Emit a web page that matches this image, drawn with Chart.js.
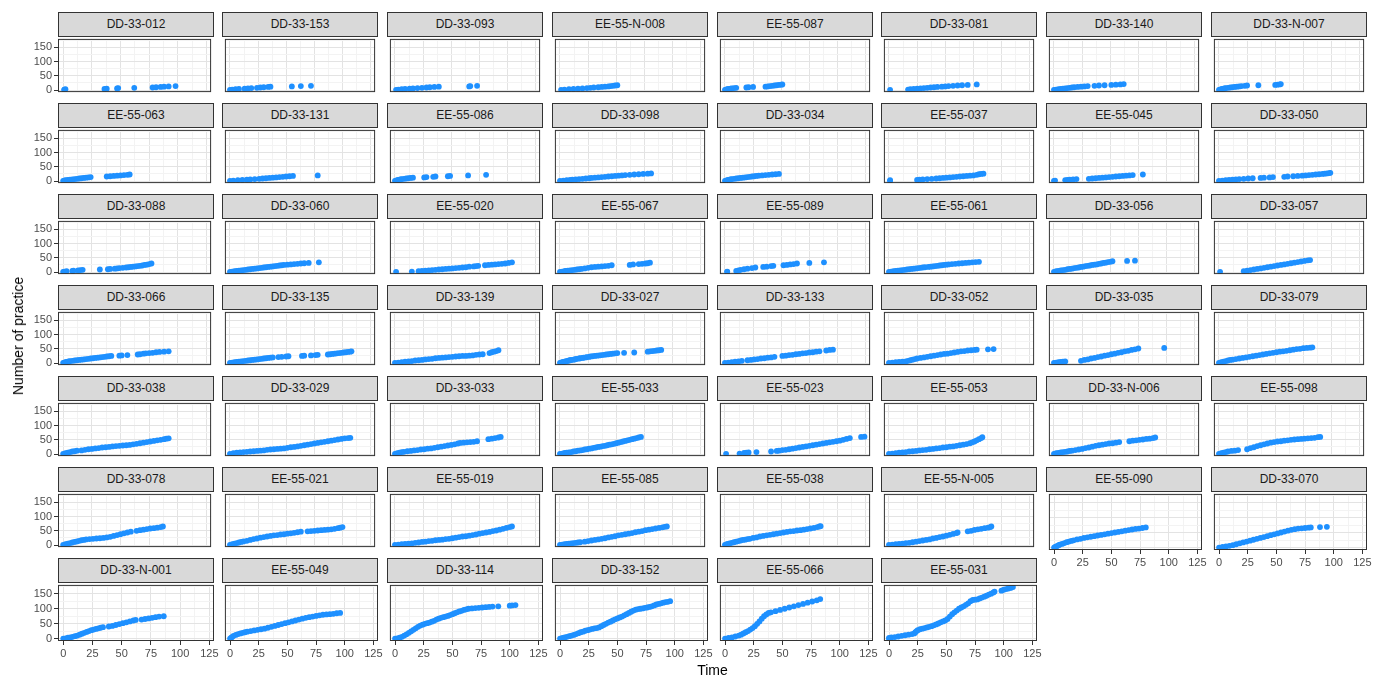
<!DOCTYPE html>
<html>
<head>
<meta charset="utf-8">
<script src="https://cdn.jsdelivr.net/npm/chart.js@4/dist/chart.umd.min.js"></script>
<style>
  body { margin: 0; background: #fff; }
  #wrap { position: relative; width: 1381px; height: 677px; overflow: hidden; font-family: "Liberation Sans", Arial, sans-serif; }
  .strip { position: absolute; box-sizing: border-box; background: #d9d9d9; border: 1px solid #333; color: #1a1a1a; font-size: 12px; text-align: center; line-height: 23px; white-space: nowrap; }
  canvas { position: absolute; }
  .title { position: absolute; color: #000; font-size: 14px; white-space: nowrap; }
</style>
</head>
<body>
<div id="wrap"></div>
<script>
// Axis breaks
const xTickValues = [0, 25, 50, 75, 100, 125];
const yTickValues = [0, 50, 100, 150];

// Cumulative practice count over time, one array of [time, count] per unit
const DD_33_012 = [[1,1],[1,2],[2,3],[36,4],[38,5],[47,6],[48,7],[62,8],[78,9],[81,10],[85,11],[88,12],[92,13],[98,14]];
const DD_33_153 = [[0,1],[2,2],[5,3],[8,4],[13,5],[16,6],[19,7],[24,8],[27,9],[30,10],[34,11],[36,12],[55,13],[63,14],[72,15]];
const DD_33_093 = [[1,1],[3,2],[6,3],[9,4],[13,5],[16,6],[20,7],[24,8],[28,9],[31,10],[35,11],[39,12],[66,13],[67,14],[73,15]];
const EE_55_N_008 = [[1,1],[4,2],[8,3],[12,4],[16,5],[20,6],[24,7],[27,8],[30,9],[34,10],[37,11],[40,12],[43,13],[45,14],[47,15],[49,16],[51,17]];
const EE_55_087 = [[0,1],[1,2],[2,3],[3,4],[5,5],[6,6],[8,7],[10,8],[19,9],[21,10],[25,11],[36,12],[38,13],[40,14],[42,15],[44,16],[46,17],[48,18],[50,19],[51,20]];
const DD_33_081 = [[1,1],[17,2],[19,3],[22,4],[25,5],[28,6],[31,7],[34,8],[37,9],[40,10],[43,11],[47,12],[50,13],[53,14],[57,15],[61,16],[65,17],[70,18],[78,20]];
const DD_33_140 = [[0,1],[2,2],[4,3],[6,4],[8,5],[10,6],[12,7],[14,8],[16,9],[18,10],[21,11],[24,12],[27,13],[30,14],[36,15],[40,16],[45,17],[51,18],[55,19],[59,20],[62,21]];
const DD_33_N_007 = [[0,1],[1,2],[2,3],[3,4],[4,5],[5,6],[6,7],[8,8],[10,9],[12,10],[14,11],[16,12],[18,13],[20,14],[23,15],[25,16],[35,17],[50,18],[52,19],[54,20],[55,21]];

const EE_55_063 = [[0,1],[1,2],[2,3],[4,4],[6,5],[8,6],[10,7],[12,8],[14,9],[16,10],[18,11],[20,12],[22,13],[24,14],[38,16],[41,17],[44,18],[47,19],[50,20],[53,21],[56,22],[58,23]];
const DD_33_131 = [[0,1],[3,2],[7,3],[11,4],[15,5],[18,6],[22,7],[26,8],[29,9],[32,10],[35,11],[38,12],[41,13],[44,14],[47,15],[50,16],[53,17],[56,18],[78,20]];
const EE_55_086 = [[0,1],[1,2],[2,3],[3,4],[4,5],[5,6],[6,7],[8,8],[10,9],[12,10],[14,11],[16,12],[26,13],[28,14],[34,15],[36,16],[47,17],[49,18],[65,20],[81,22]];
const DD_33_098 = [[0,1],[3,2],[6,3],[9,4],[11,5],[14,6],[17,7],[20,8],[23,9],[26,10],[28,11],[31,12],[34,13],[37,14],[40,15],[43,16],[46,17],[49,18],[52,19],[55,20],[58,21],[62,22],[66,23],[70,24],[74,25],[78,26],[81,27]];
const DD_33_034 = [[0,1],[1,2],[2,3],[3,4],[4,5],[5,6],[6,7],[8,8],[10,9],[12,10],[14,11],[16,12],[18,13],[20,14],[22,15],[24,16],[26,17],[28,18],[30,19],[33,20],[36,21],[39,22],[42,23],[45,24],[48,25]];
const EE_55_037 = [[1,1],[1,3],[25,4],[27,5],[30,6],[34,7],[38,8],[42,9],[45,10],[48,11],[51,12],[54,13],[57,14],[60,15],[63,16],[66,17],[69,18],[72,19],[75,20],[78,22],[80,24],[82,25],[84,26]];
const EE_55_045 = [[0,1],[1,2],[10,3],[12,4],[14,5],[17,6],[20,7],[31,8],[34,9],[37,10],[40,11],[43,12],[46,13],[49,14],[52,15],[55,16],[58,17],[61,18],[64,19],[67,20],[70,21],[79,23]];
const DD_33_050 = [[0,1],[3,2],[6,3],[9,4],[12,5],[15,6],[18,7],[22,8],[26,9],[30,10],[37,11],[40,12],[45,13],[48,14],[58,15],[61,16],[66,17],[70,18],[74,19],[77,20],[80,21],[83,22],[86,23],[89,24],[92,25],[94,26],[96,27],[98,28],[99,29]];

const DD_33_088 = [[0,1],[1,2],[3,3],[8,4],[9,5],[13,6],[15,7],[17,8],[32,9],[39,10],[41,11],[45,12],[47,13],[49,14],[52,15],[55,16],[57,17],[59,18],[61,19],[63,20],[65,21],[67,22],[69,23],[71,25],[73,26],[75,28],[77,30]];
const DD_33_060 = [[0,1],[2,2],[4,3],[6,4],[8,5],[10,6],[12,7],[14,8],[16,9],[18,10],[20,11],[22,12],[24,13],[26,14],[28,15],[30,16],[32,17],[34,18],[36,19],[38,20],[40,21],[42,22],[44,23],[46,24],[48,25],[51,26],[54,27],[57,28],[60,29],[63,30],[66,31],[70,32],[79,34]];
const EE_55_020 = [[1,1],[15,2],[21,3],[24,4],[27,5],[30,6],[33,7],[36,8],[39,9],[42,10],[45,11],[48,12],[51,13],[54,14],[57,15],[60,16],[63,17],[66,19],[70,20],[72,21],[74,22],[80,24],[83,25],[86,26],[89,27],[92,28],[95,29],[98,30],[101,32],[104,34]];
const EE_55_067 = [[0,1],[2,2],[4,3],[5,4],[7,5],[9,6],[11,7],[13,8],[15,9],[17,10],[19,11],[22,13],[25,15],[28,17],[31,18],[34,19],[37,20],[40,21],[43,22],[46,24],[62,25],[65,27],[70,28],[73,29],[76,30],[78,31],[80,33]];
const EE_55_089 = [[2,1],[2,2],[10,4],[12,6],[14,8],[17,10],[20,12],[24,14],[27,16],[34,18],[37,19],[41,21],[43,22],[52,24],[55,25],[58,27],[61,28],[64,30],[75,32],[88,34]];
const EE_55_061 = [[0,1],[2,2],[4,3],[6,4],[8,5],[10,6],[12,7],[14,8],[16,9],[18,10],[20,11],[22,12],[24,13],[26,14],[28,15],[30,16],[32,17],[35,18],[37,19],[39,20],[41,21],[43,22],[45,23],[47,24],[49,25],[51,26],[53,27],[56,28],[59,29],[62,30],[65,31],[68,32],[71,33],[74,34],[77,35],[80,36]];
const DD_33_056 = [[0,1],[2,3],[4,4],[6,6],[8,7],[10,8],[12,10],[14,11],[16,12],[18,14],[20,15],[22,16],[24,18],[26,19],[28,21],[30,22],[32,23],[34,25],[36,26],[38,27],[40,29],[42,30],[44,32],[46,33],[48,35],[50,36],[52,38],[65,39],[72,40]];
const DD_33_057 = [[1,1],[22,3],[25,5],[28,7],[31,9],[34,11],[37,13],[40,15],[43,17],[46,19],[49,21],[52,23],[55,25],[58,27],[61,29],[64,31],[67,33],[70,35],[73,37],[76,39],[79,41],[81,42]];

const DD_33_066 = [[0,1],[1,2],[2,3],[3,4],[4,5],[5,6],[6,7],[8,8],[10,9],[12,10],[14,11],[16,12],[18,13],[20,14],[22,15],[24,16],[26,17],[28,18],[30,19],[32,20],[34,21],[36,22],[38,23],[40,24],[42,25],[49,26],[51,27],[56,28],[65,30],[67,31],[70,33],[72,34],[75,35],[78,36],[81,38],[84,39],[88,40],[92,41]];
const DD_33_135 = [[0,1],[2,2],[4,3],[6,4],[8,5],[10,6],[12,7],[14,8],[16,9],[18,10],[20,11],[22,12],[24,13],[26,14],[28,15],[30,16],[32,17],[34,18],[36,19],[38,20],[43,21],[46,22],[50,23],[52,24],[64,25],[66,26],[72,27],[76,28],[78,29],[87,30],[89,31],[91,32],[93,33],[95,34],[97,35],[99,36],[101,37],[103,38],[105,39],[107,40],[108,41]];
const DD_33_139 = [[0,1],[3,2],[6,3],[9,5],[12,6],[15,7],[18,9],[21,10],[24,11],[27,13],[30,14],[33,15],[36,17],[39,18],[42,19],[45,20],[48,21],[51,22],[54,23],[57,24],[60,25],[63,25],[66,26],[69,27],[72,29],[75,30],[78,31],[84,35],[86,38],[88,40],[90,42],[92,45]];
const DD_33_027 = [[0,1],[1,2],[2,3],[3,4],[4,5],[5,6],[6,7],[7,8],[8,9],[9,10],[10,11],[12,12],[13,13],[14,14],[15,15],[17,16],[18,17],[20,18],[21,19],[23,20],[24,21],[26,22],[27,23],[29,24],[31,25],[33,26],[35,27],[37,28],[39,29],[41,30],[43,31],[45,32],[47,33],[49,34],[51,35],[57,36],[66,37],[78,40],[80,41],[82,42],[84,43],[86,44],[88,45],[90,46]];
const DD_33_133 = [[0,1],[3,2],[6,3],[9,5],[12,6],[15,8],[20,10],[23,11],[26,13],[29,14],[32,16],[35,17],[38,19],[41,20],[44,22],[51,25],[54,26],[57,28],[60,29],[63,31],[66,32],[69,34],[72,35],[75,37],[78,38],[81,40],[84,41],[90,44],[93,46],[96,47]];
const DD_33_052 = [[0,1],[3,2],[6,3],[9,4],[12,5],[15,6],[17,8],[19,10],[21,12],[23,14],[25,16],[28,18],[31,20],[34,22],[37,24],[40,26],[43,28],[46,30],[49,32],[52,33],[55,35],[58,37],[61,39],[64,41],[67,42],[70,44],[73,45],[76,46],[78,47],[88,48],[93,49]];
const DD_33_035 = [[0,1],[2,2],[4,3],[6,4],[8,5],[10,6],[24,8],[27,11],[30,13],[33,16],[36,18],[39,21],[42,23],[45,26],[48,28],[51,31],[54,33],[57,36],[60,38],[63,41],[66,43],[69,46],[72,48],[75,51],[98,53]];
const DD_33_079 = [[0,1],[2,3],[4,5],[6,7],[8,9],[10,11],[12,12],[15,14],[18,16],[21,18],[24,20],[27,22],[30,24],[33,26],[36,28],[39,30],[42,32],[45,34],[48,36],[51,38],[54,40],[57,41],[60,43],[63,45],[66,47],[69,49],[72,50],[75,52],[78,53],[81,54],[83,55]];

const DD_33_038 = [[0,1],[2,3],[4,5],[6,7],[8,9],[10,10],[12,12],[16,13],[19,15],[22,17],[25,18],[28,20],[31,21],[34,23],[37,24],[40,25],[43,27],[46,28],[49,29],[52,30],[55,31],[58,32],[61,34],[64,36],[67,38],[70,40],[73,42],[76,44],[79,46],[82,48],[85,50],[88,52],[90,54],[92,55]];
const DD_33_029 = [[0,1],[3,3],[6,5],[9,6],[12,7],[15,8],[18,9],[21,10],[24,11],[27,12],[30,13],[33,15],[36,16],[39,17],[42,18],[45,19],[48,20],[51,22],[54,24],[57,25],[60,27],[63,29],[66,31],[69,33],[72,35],[75,37],[78,39],[81,41],[84,43],[87,45],[90,47],[93,49],[96,51],[99,53],[102,55],[105,56],[107,57]];
const DD_33_033 = [[0,1],[2,3],[4,5],[6,7],[8,8],[11,10],[14,11],[17,13],[20,14],[23,16],[26,17],[29,19],[32,20],[35,22],[38,24],[41,26],[44,28],[47,30],[50,32],[53,34],[56,37],[58,39],[61,40],[64,41],[67,42],[70,43],[73,45],[83,52],[86,54],[89,56],[92,58],[94,60]];
const EE_55_033 = [[0,1],[2,2],[4,4],[6,5],[8,6],[10,7],[12,9],[14,10],[16,12],[18,13],[20,14],[22,16],[24,17],[26,19],[28,20],[30,22],[32,23],[34,25],[36,26],[38,28],[40,29],[42,31],[44,33],[46,34],[48,36],[50,38],[52,40],[54,42],[56,44],[58,46],[60,48],[62,50],[64,52],[66,54],[68,56],[70,58],[72,60]];
const EE_55_023 = [[1,1],[13,2],[17,4],[19,5],[21,6],[28,7],[41,9],[46,11],[48,12],[51,14],[54,15],[57,17],[60,19],[63,21],[66,23],[69,25],[72,27],[75,29],[78,31],[81,33],[84,35],[87,37],[90,39],[93,41],[96,43],[99,45],[102,47],[105,50],[108,53],[111,56],[121,60],[124,61]];
const EE_55_053 = [[0,1],[3,2],[6,3],[9,5],[12,6],[15,7],[18,9],[21,10],[24,11],[27,13],[30,14],[33,15],[36,17],[39,18],[42,20],[45,21],[48,23],[51,24],[54,26],[57,27],[60,29],[63,31],[66,33],[69,35],[72,38],[74,41],[76,44],[78,48],[80,52],[82,56],[83,59]];
const DD_33_N_006 = [[0,1],[2,3],[4,4],[6,6],[8,7],[10,8],[12,9],[14,11],[16,12],[19,14],[22,16],[25,18],[28,21],[31,23],[34,26],[37,29],[40,31],[43,33],[46,35],[49,37],[52,38],[55,40],[58,42],[67,45],[70,47],[73,48],[76,50],[79,51],[82,53],[85,54],[88,56],[90,58]];
const EE_55_098 = [[0,1],[2,3],[4,5],[6,7],[8,9],[11,11],[14,12],[17,14],[25,17],[28,21],[31,24],[34,28],[37,31],[40,34],[43,37],[46,40],[49,42],[52,44],[55,45],[58,47],[61,48],[64,50],[67,51],[70,52],[73,53],[76,54],[79,55],[82,56],[85,57],[88,59],[90,60]];

const DD_33_078 = [[0,1],[2,3],[4,5],[6,7],[8,9],[10,11],[12,13],[14,15],[16,17],[18,18],[20,20],[23,21],[26,22],[29,23],[32,24],[35,25],[38,27],[41,29],[44,32],[47,35],[50,38],[53,41],[56,44],[59,47],[64,50],[67,52],[70,54],[73,56],[76,58],[79,59],[82,61],[85,63],[87,65]];
const EE_55_021 = [[0,1],[2,3],[4,5],[6,7],[8,9],[10,11],[12,13],[15,15],[18,18],[21,21],[24,23],[27,26],[30,28],[33,30],[36,32],[39,34],[42,35],[45,37],[48,38],[51,40],[54,41],[57,43],[60,45],[63,47],[69,48],[72,49],[75,50],[78,51],[81,52],[84,53],[87,54],[90,55],[93,57],[96,59],[98,61],[100,63]];
const EE_55_019 = [[0,1],[3,2],[6,3],[9,4],[12,5],[15,6],[18,8],[21,9],[24,11],[27,12],[30,14],[33,15],[36,17],[39,18],[42,19],[45,21],[48,22],[51,24],[54,26],[57,28],[60,30],[63,31],[66,33],[69,35],[72,37],[75,40],[78,42],[81,44],[84,46],[87,49],[90,51],[93,54],[96,57],[99,60],[102,63],[104,65]];
const EE_55_085 = [[0,1],[2,2],[4,3],[6,4],[8,5],[10,6],[12,7],[14,8],[16,9],[18,10],[22,12],[25,14],[28,16],[31,18],[34,20],[37,22],[40,24],[43,27],[46,29],[49,31],[52,34],[55,36],[58,38],[61,40],[64,42],[67,45],[70,47],[73,49],[76,52],[79,54],[82,56],[85,58],[88,60],[91,62],[93,64],[95,65]];
const EE_55_038 = [[0,1],[2,4],[4,6],[6,8],[8,10],[10,12],[12,14],[14,16],[16,18],[18,19],[20,21],[22,22],[25,25],[28,27],[31,30],[34,32],[37,34],[40,36],[43,38],[46,40],[49,42],[52,44],[55,46],[58,48],[61,49],[64,51],[67,52],[70,54],[73,56],[76,58],[79,60],[82,63],[84,65],[85,66]];
const EE_55_N_005 = [[0,1],[3,2],[6,3],[9,4],[12,5],[15,7],[18,8],[21,10],[24,12],[27,14],[30,16],[33,18],[36,20],[39,23],[42,25],[45,28],[48,30],[51,33],[54,36],[57,39],[60,42],[61,44],[70,48],[73,50],[76,53],[79,55],[82,57],[85,59],[88,61],[90,63],[91,65]];
const EE_55_090 = [[0,1],[1,3],[2,5],[3,7],[4,9],[5,11],[7,13],[9,16],[11,19],[13,21],[15,23],[17,25],[20,28],[23,30],[26,33],[29,35],[32,37],[35,39],[38,41],[41,43],[44,45],[47,47],[50,49],[53,51],[56,53],[59,55],[62,57],[65,59],[68,61],[71,63],[74,64],[77,66],[80,68]];
const DD_33_070 = [[0,1],[3,3],[6,5],[9,7],[12,9],[15,12],[18,15],[21,18],[24,21],[27,24],[30,27],[33,30],[36,33],[39,36],[42,39],[45,42],[48,45],[51,48],[54,51],[57,54],[60,57],[63,60],[66,62],[69,64],[72,65],[75,66],[78,67],[80,68],[88,69],[94,70]];

const DD_33_N_001 = [[0,1],[2,2],[4,4],[6,5],[8,7],[10,9],[12,11],[14,14],[16,17],[18,20],[20,23],[22,26],[24,29],[26,31],[28,33],[30,35],[32,37],[34,39],[39,41],[42,43],[45,46],[48,49],[51,52],[54,55],[57,58],[60,61],[62,63],[67,64],[70,66],[73,68],[76,70],[79,72],[82,74],[86,75]];
const EE_55_049 = [[0,1],[1,4],[2,7],[3,10],[5,13],[7,16],[9,18],[11,20],[13,22],[15,24],[18,26],[21,28],[24,30],[27,32],[30,34],[33,37],[36,40],[39,43],[42,46],[45,49],[48,52],[51,55],[54,58],[57,61],[60,64],[63,67],[66,70],[69,72],[72,74],[75,76],[78,78],[81,80],[84,81],[87,82],[90,83],[93,85],[96,86]];
const DD_33_114 = [[0,1],[2,2],[4,4],[6,7],[8,11],[10,15],[12,20],[14,25],[16,30],[18,35],[20,40],[22,44],[24,47],[26,50],[28,52],[30,54],[32,57],[34,60],[36,64],[38,67],[40,70],[42,72],[44,74],[46,76],[48,79],[50,82],[52,85],[54,88],[56,91],[58,93],[60,96],[62,98],[64,100],[67,101],[70,102],[73,103],[76,104],[79,105],[82,106],[85,107],[90,108],[100,110],[102,111],[105,112]];
const DD_33_152 = [[0,1],[2,3],[4,5],[6,7],[8,9],[10,11],[12,13],[14,16],[16,19],[18,22],[20,24],[22,27],[24,29],[26,31],[28,33],[30,35],[32,36],[34,38],[36,42],[38,46],[40,50],[42,54],[44,57],[46,61],[48,65],[50,68],[52,71],[54,74],[56,78],[58,82],[60,86],[62,90],[64,94],[66,97],[68,99],[70,100],[72,101],[74,103],[76,104],[78,106],[80,108],[82,111],[84,114],[86,116],[88,118],[90,120],[92,122],[94,123],[96,125]];
const EE_55_066 = [[0,1],[3,3],[6,5],[9,8],[12,11],[14,14],[16,18],[18,22],[20,26],[22,31],[24,36],[26,42],[28,50],[30,58],[32,67],[34,75],[36,81],[38,86],[40,88],[44,92],[48,96],[52,100],[56,104],[60,108],[64,112],[68,116],[72,120],[76,124],[80,128],[83,132]];
const EE_55_031 = [[0,1],[0,3],[2,5],[5,6],[8,8],[11,10],[14,12],[17,14],[20,16],[22,18],[23,22],[24,26],[25,29],[27,32],[29,34],[31,36],[33,38],[35,40],[37,42],[39,45],[41,48],[43,51],[45,55],[47,58],[49,61],[51,66],[53,74],[55,82],[57,88],[59,94],[61,100],[63,104],[65,108],[67,113],[69,118],[71,125],[73,129],[75,130],[77,131],[79,134],[81,137],[83,140],[85,143],[87,147],[89,150],[91,154],[92,157],[98,160],[100,163],[102,165],[104,167],[106,169],[108,172]];

// Facet order (row by row, 8 per row)
const panelIds = [
  'DD-33-012','DD-33-153','DD-33-093','EE-55-N-008','EE-55-087','DD-33-081','DD-33-140','DD-33-N-007',
  'EE-55-063','DD-33-131','EE-55-086','DD-33-098','DD-33-034','EE-55-037','EE-55-045','DD-33-050',
  'DD-33-088','DD-33-060','EE-55-020','EE-55-067','EE-55-089','EE-55-061','DD-33-056','DD-33-057',
  'DD-33-066','DD-33-135','DD-33-139','DD-33-027','DD-33-133','DD-33-052','DD-33-035','DD-33-079',
  'DD-33-038','DD-33-029','DD-33-033','EE-55-033','EE-55-023','EE-55-053','DD-33-N-006','EE-55-098',
  'DD-33-078','EE-55-021','EE-55-019','EE-55-085','EE-55-038','EE-55-N-005','EE-55-090','DD-33-070',
  'DD-33-N-001','EE-55-049','DD-33-114','DD-33-152','EE-55-066','EE-55-031'
];
const panelPoints = [
  DD_33_012, DD_33_153, DD_33_093, EE_55_N_008, EE_55_087, DD_33_081, DD_33_140, DD_33_N_007,
  EE_55_063, DD_33_131, EE_55_086, DD_33_098, DD_33_034, EE_55_037, EE_55_045, DD_33_050,
  DD_33_088, DD_33_060, EE_55_020, EE_55_067, EE_55_089, EE_55_061, DD_33_056, DD_33_057,
  DD_33_066, DD_33_135, DD_33_139, DD_33_027, DD_33_133, DD_33_052, DD_33_035, DD_33_079,
  DD_33_038, DD_33_029, DD_33_033, EE_55_033, EE_55_023, EE_55_053, DD_33_N_006, EE_55_098,
  DD_33_078, EE_55_021, EE_55_019, EE_55_085, EE_55_038, EE_55_N_005, EE_55_090, DD_33_070,
  DD_33_N_001, EE_55_049, DD_33_114, DD_33_152, EE_55_066, EE_55_031
];

// ---- layout of the facet grid ----
const NCOL = 8;
const colLeft = [58, 222, 387, 552, 717, 881, 1046, 1211];
const rowTop = [12, 103, 194, 285, 376, 467, 558];
const PANEL_W = 156, STRIP_H = 24, PLOT_H = 59;
const X_MIN = -4.5, X_MAX = 129;
const Y_MIN = -7, Y_MAX = 179;
const Y_AXIS_W = 40, X_AXIS_H = 22, RIGHT_PAD = 14;

const xGrid = [0, 12.5, 25, 37.5, 50, 62.5, 75, 87.5, 100, 112.5, 125];
const yGrid = [0, 25, 50, 75, 100, 125, 150, 175];

const wrap = document.getElementById('wrap');
const nPanels = panelIds.length;

// draws the dark panel frame on top of grid and points
const panelFrame = {
  id: 'panelFrame',
  afterDraw(chart) {
    const a = chart.chartArea, ctx = chart.ctx;
    ctx.save();
    ctx.strokeStyle = '#333333';
    ctx.lineWidth = 1;
    ctx.strokeRect(a.left + 0.5, a.top + 0.5, a.right - a.left - 1, a.bottom - a.top - 1);
    ctx.restore();
  }
};

function isMajorX(v) { return xTickValues.includes(v); }
function isMajorY(v) { return yTickValues.includes(v); }

panelIds.forEach((id, i) => {
  const r = Math.floor(i / NCOL), c = i % NCOL;
  const left = colLeft[c], stripTop = rowTop[r], plotTop = stripTop + STRIP_H;
  const firstCol = c === 0;
  // x axis shown under the lowest panel of each column
  const bottom = (i + NCOL) >= nPanels;
  const padL = firstCol ? Y_AXIS_W : 0;
  const padB = bottom ? X_AXIS_H : 0;
  const padR = bottom ? RIGHT_PAD : 0;

  const strip = document.createElement('div');
  strip.className = 'strip';
  strip.style.left = left + 'px';
  strip.style.top = stripTop + 'px';
  strip.style.width = PANEL_W + 'px';
  strip.style.height = (STRIP_H + 1) + 'px';
  strip.textContent = id;
  wrap.appendChild(strip);

  const cv = document.createElement('canvas');
  const w = padL + PANEL_W + padR, h = PLOT_H + padB;
  cv.width = w; cv.height = h;
  cv.style.width = w + 'px'; cv.style.height = h + 'px';
  cv.style.left = (left - padL) + 'px';
  cv.style.top = plotTop + 'px';
  wrap.appendChild(cv);

  new Chart(cv, {
    type: 'scatter',
    data: {
      datasets: [{
        data: panelPoints[i].map(p => ({ x: p[0], y: p[1] })),
        backgroundColor: '#1E90FF',
        borderWidth: 0,
        pointRadius: 2.9,
        pointHoverRadius: 2.9
      }]
    },
    options: {
      responsive: false,
      animation: false,
      devicePixelRatio: 1,
      events: [],
      layout: { padding: { left: 0, right: padR, top: 0, bottom: 0 } },
      plugins: { legend: { display: false }, tooltip: { enabled: false } },
      scales: {
        x: {
          type: 'linear', min: X_MIN, max: X_MAX,
          afterBuildTicks: s => { s.ticks = xGrid.map(v => ({ value: v })); },
          afterFit: s => { s.height = padB; s.paddingLeft = 0; s.paddingRight = 0; },
          border: { display: false },
          grid: {
            color: ctx => isMajorX(ctx.tick.value) ? '#e3e3e3' : '#f3f3f3',
            lineWidth: 1,
            drawTicks: bottom, tickLength: 4,
            tickColor: ctx => isMajorX(ctx.tick.value) ? '#333333' : 'rgba(0,0,0,0)'
          },
          ticks: {
            display: bottom, autoSkip: false, maxRotation: 0, padding: 2,
            color: '#4d4d4d', font: { family: 'Liberation Sans', size: 11 },
            callback: v => isMajorX(v) ? String(v) : ''
          }
        },
        y: {
          type: 'linear', min: Y_MIN, max: Y_MAX,
          afterBuildTicks: s => { s.ticks = yGrid.map(v => ({ value: v })); },
          afterFit: s => { s.width = padL; s.paddingTop = 0; s.paddingBottom = 0; },
          border: { display: false },
          grid: {
            color: ctx => isMajorY(ctx.tick.value) ? '#e3e3e3' : '#f3f3f3',
            lineWidth: 1,
            drawTicks: firstCol, tickLength: 4,
            tickColor: ctx => isMajorY(ctx.tick.value) ? '#333333' : 'rgba(0,0,0,0)'
          },
          ticks: {
            display: firstCol, autoSkip: false, padding: 2,
            color: '#4d4d4d', font: { family: 'Liberation Sans', size: 11 },
            callback: v => isMajorY(v) ? String(v) : ''
          }
        }
      }
    },
    plugins: [panelFrame]
  });
});

// axis titles
const xTitle = document.createElement('div');
xTitle.className = 'title';
xTitle.textContent = 'Time';
xTitle.style.left = '0px';
xTitle.style.width = (colLeft[0] + colLeft[NCOL - 1] + PANEL_W) + 'px';
xTitle.style.textAlign = 'center';
xTitle.style.top = '662px';
wrap.appendChild(xTitle);

const yTitle = document.createElement('div');
yTitle.className = 'title';
yTitle.textContent = 'Number of practice';
yTitle.style.left = '18px';
yTitle.style.top = '336px';
yTitle.style.transform = 'translate(-50%, -50%) rotate(-90deg)';
wrap.appendChild(yTitle);
</script>
</body>
</html>
